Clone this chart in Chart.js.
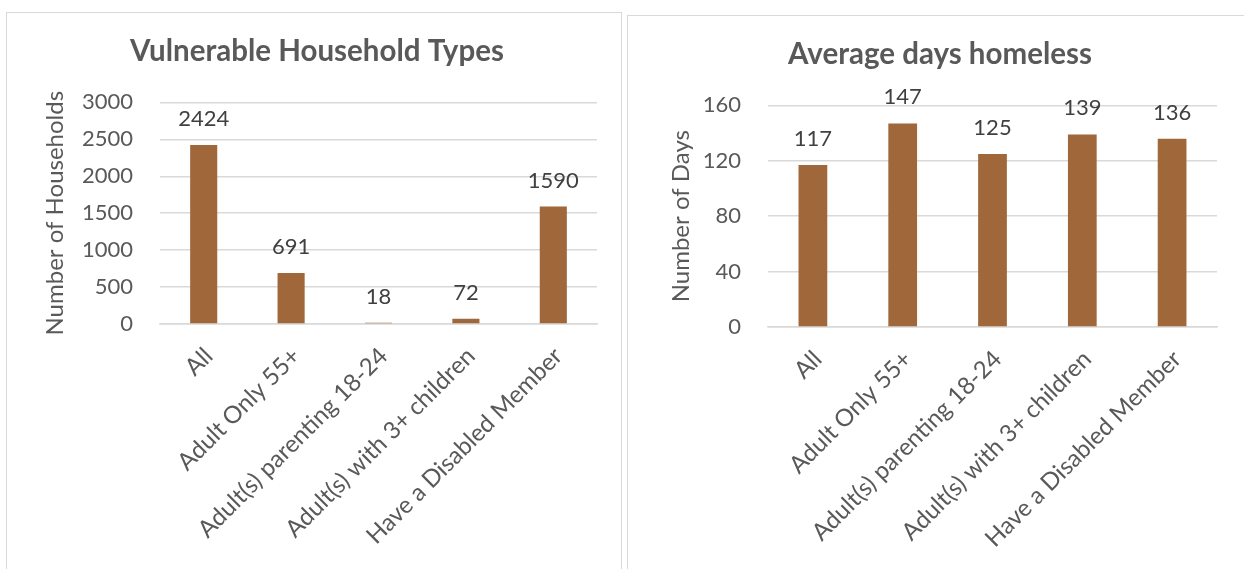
<!DOCTYPE html>
<html>
<head>
<meta charset="utf-8">
<script src="https://cdn.jsdelivr.net/npm/chart.js@4.4.1/dist/chart.umd.min.js"></script>
<style>
  html, body { margin: 0; padding: 0; background: #fff; overflow: hidden; }
  body { width: 1244px; height: 569px; position: relative; }
  .panel { position: absolute; border: 1px solid #d9d9d9; background: #fff; }
  #panel-left { left: 6px; top: 12px; width: 614px; height: 580px; }
  #panel-right { left: 627px; top: 15px; width: 640px; height: 580px; }
  canvas { position: absolute; left: 0; top: 0; }
</style>
</head>
<body>
<div class="panel" id="panel-left"><canvas id="householdChart" width="614" height="556"></canvas></div>
<div class="panel" id="panel-right"><canvas id="daysChart" width="616" height="553"></canvas></div>
<script>
const categories = [
  "All",
  "Adult Only 55+",
  "Adult(s) parenting 18-24",
  "Adult(s) with 3+ children",
  "Have a Disabled Member",
];
const householdCounts = [2424, 691, 18, 72, 1590];
const averageDays = [117, 147, 125, 139, 136];
const householdTicks = [0, 500, 1000, 1500, 2000, 2500, 3000];
const dayTicks = [0, 40, 80, 120, 160];

const BAR_COLOR = "#9f673a";
const TEXT_COLOR = "#595959";
const LABEL_COLOR = "#404040";
const GRID_COLOR = "#d9d9d9";
const FONT = "Lato, 'Open Sans', sans-serif";

Chart.defaults.font.family = FONT;

// draws the value above each bar (no datalabels plugin available)
const barValueLabels = {
  id: "barValueLabels",
  afterDatasetsDraw(chart) {
    const { ctx } = chart;
    const meta = chart.getDatasetMeta(0);
    const values = chart.data.datasets[0].data;
    ctx.save();
    ctx.font = `22px ${FONT}`;
    ctx.fillStyle = LABEL_COLOR;
    ctx.textAlign = "center";
    ctx.textBaseline = "alphabetic";
    meta.data.forEach((bar, idx) => {
      ctx.fillText(String(values[idx]), bar.x, bar.y - 19);
    });
    ctx.restore();
  },
};

function buildBarChart(canvasId, cfg) {
  const ticks = cfg.ticks;
  return new Chart(document.getElementById(canvasId), {
    type: "bar",
    data: {
      labels: categories,
      datasets: [
        {
          data: cfg.values,
          backgroundColor: BAR_COLOR,
          barPercentage: cfg.barPercentage,
          categoryPercentage: 1,
        },
      ],
    },
    options: {
      responsive: false,
      animation: false,
      events: [],
      layout: { padding: { left: cfg.padLeft, right: cfg.padRight, top: 0, bottom: 0 } },
      plugins: {
        legend: { display: false },
        tooltip: { enabled: false },
        title: {
          display: true,
          text: cfg.title,
          color: TEXT_COLOR,
          font: { size: 29.5, weight: "bold" },
          padding: { top: 21, bottom: 33 },
        },
      },
      scales: {
        x: {
          grid: { display: false, drawTicks: false },
          border: { color: GRID_COLOR, width: 1.5 },
          ticks: {
            color: TEXT_COLOR,
            font: { size: 24 },
            minRotation: 45,
            maxRotation: 45,
            autoSkip: false,
            padding: 18,
            labelOffset: 5,
          },
          afterFit(scale) {
            scale.height = cfg.xHeight;
          },
        },
        y: {
          min: ticks[0],
          max: ticks[ticks.length - 1],
          ticks: {
            stepSize: ticks[1] - ticks[0],
            color: TEXT_COLOR,
            font: { size: 22 },
            padding: 27,
            callback: (value) => String(value),
          },
          grid: { color: GRID_COLOR, lineWidth: 1.5, drawTicks: false },
          border: { display: false },
          title: {
            display: true,
            text: cfg.yTitle,
            color: TEXT_COLOR,
            font: { size: 24 },
            padding: { top: 4, bottom: 4 },
          },
          afterFit(scale) {
            scale.width = cfg.yWidth;
          },
        },
      },
    },
    plugins: [barValueLabels],
  });
}

buildBarChart("householdChart", {
  title: "Vulnerable Household Types",
  yTitle: "Number of Households",
  values: householdCounts,
  ticks: householdTicks,
  barPercentage: 0.31,
  padLeft: 30,
  padRight: 24,
  yWidth: 123,
  xHeight: 245,
});

buildBarChart("daysChart", {
  title: "Average days homeless",
  yTitle: "Number of Days",
  values: averageDays,
  ticks: dayTicks,
  barPercentage: 0.32,
  padLeft: 35,
  padRight: 27,
  yWidth: 105,
  xHeight: 242,
});
</script>
</body>
</html>
